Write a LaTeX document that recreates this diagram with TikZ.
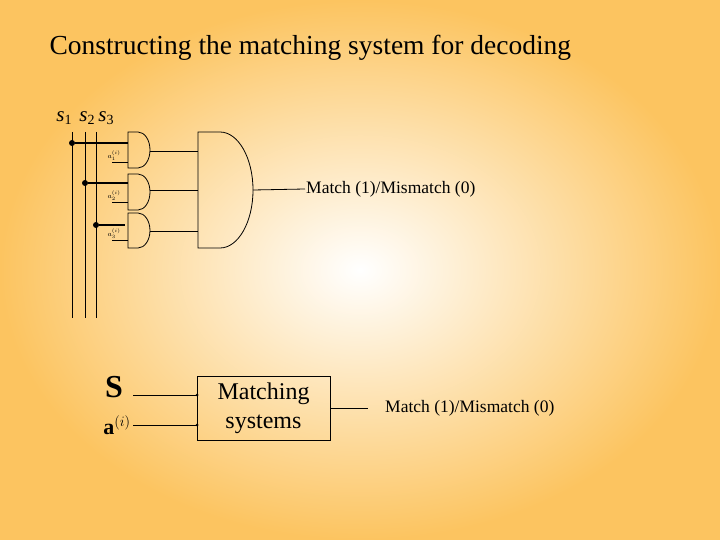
\documentclass[tikz,border=0pt]{standalone}
\usepackage{fontspec}
\setmainfont{Liberation Serif}
\begin{document}
\begin{tikzpicture}[x=1pt,y=-1pt,
  wire/.style={line width=0.8pt},
  thick wire/.style={line width=2pt},
  dotc/.style={circle,fill=black,inner sep=0pt,minimum size=6pt},
  lbl/.style={font=\fontsize{17.5}{19}\selectfont,inner sep=1pt}]
\definecolor{bgo}{RGB}{252,196,96}
\path[use as bounding box] (0,0) rectangle (720,540);
\shade[outer color=bgo,inner color=white] (0,0) rectangle (720,540);
\node[anchor=west,font=\fontsize{27.5}{30}\selectfont] (title) at (46,48) {Constructing the matching system for decoding};
% s labels
\node[font=\fontsize{21}{22}\selectfont] (s1) at (64,118) {\textit{s}\raisebox{-3pt}{\fontsize{14}{14}\selectfont 1}};
\node[font=\fontsize{21}{22}\selectfont] (s2) at (87,118) {\textit{s}\raisebox{-3pt}{\fontsize{14}{14}\selectfont 2}};
\node[font=\fontsize{21}{22}\selectfont] (s3) at (106,118) {\textit{s}\raisebox{-3pt}{\fontsize{14}{14}\selectfont 3}};
\coordinate (v1t) at (72,132); \coordinate (v1b) at (72,318);
\coordinate (v2t) at (85,132); \coordinate (v2b) at (85,318);
\coordinate (v3t) at (96,132); \coordinate (v3b) at (96,318);
\draw[wire] (v1t)--(v1b) (v2t)--(v2b) (v3t)--(v3b);
% small gates
\foreach \i/\t/\b/\dx/\ya/\yb/\yo in {1/132/168/72/143/162/151, 2/174/210/85/183/202/190, 3/213/248/96/225/240/231}{
  \draw[wire] (128,\t) -- (138,\t) arc[start angle=-90,end angle=90,x radius=12,y radius={(\b-\t)/2}] -- (128,\b) -- cycle;
  \node[dotc] (d\i) at (\dx,\ya) {};
  \coordinate (gi\i) at (128,\ya);
  \coordinate (gb\i) at (128,\yb);
  \coordinate (go\i) at (150,\yo);
  \coordinate (bi\i) at (198,\yo);
  \draw[wire] (go\i) -- (bi\i);
  \draw[wire] (gb\i) -- (112,\yb);
  \node[font=\fontsize{7}{7}\selectfont,inner sep=0pt] (al\i) at (114,{\yb-6}) {$a^{(i)}_{\i}$};
}
\draw[thick wire] (d1) -- (gi1);
\draw[thick wire] (d2) -- (gi2);
\draw[thick wire] (d3) -- (125,225);
% big gate
\draw[wire] (198,132) -- (220,132) arc[start angle=-90,end angle=90,x radius=33,y radius=58] -- (198,248) -- cycle;
\coordinate (bo) at (253,190);
\node[lbl,anchor=west] (m1) at (305,189) {Match (1)/Mismatch (0)};
\draw[wire] (bo) -- (m1.west);
% bottom
\node[draw,line width=0.8pt,minimum width=133pt,minimum height=64pt,align=center,font=\fontsize{24}{29}\selectfont] (box) at (263.5,408) {Matching\\systems};
\node[font=\bfseries\fontsize{32}{32}\selectfont] (S) at (114,387) {S};
\node[font=\fontsize{22}{22}\selectfont] (A) at (117,425) {$\mathbf{a}^{(i)}$};
\coordinate (bs) at (197,395); \coordinate (ba) at (197,425);
\draw[wire] (133,395) -- (bs); \draw[wire] (133,425) -- (ba);
\fill (bs) circle (1.5); \fill (ba) circle (1.5);
\node[lbl,anchor=west] (m2) at (384,408) {Match (1)/Mismatch (0)};
\draw[wire] (box.east) -- (368,408);
\end{tikzpicture}
\end{document}
